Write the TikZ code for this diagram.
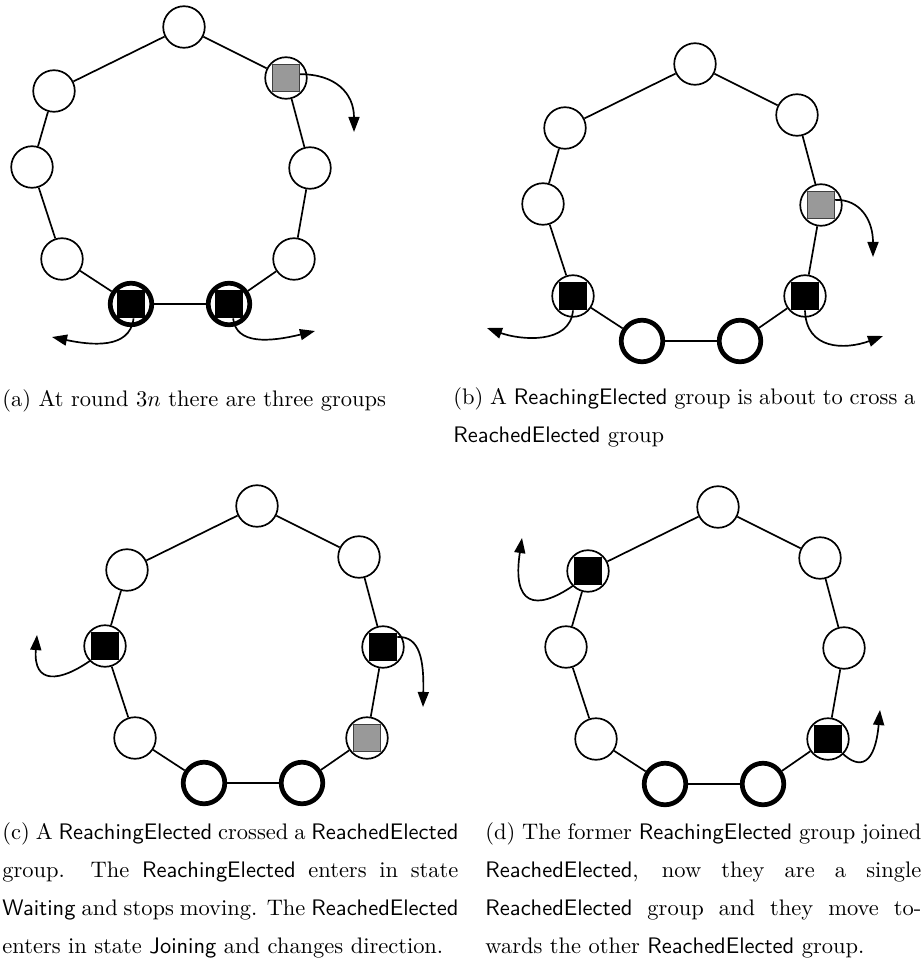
\documentclass[tikz,border=0pt]{standalone}
\usetikzlibrary{arrows.meta}
\definecolor{leadgray}{RGB}{153,153,153}

% one ring of nine sites; #1 is the name prefix, sites 5 and 6 are the base group
\newcommand{\drawring}[1]{%
  \foreach \n/\x/\y/\w in {1/184/27/0.75,2/286/78/0.75,3/310/168/0.75,4/294/259/0.75,
                           5/229/304/2.1,6/131/304/2.1,7/62/259/0.75,8/32/167/0.75,9/54/91/0.75}
    \node[ringsite,line width=\w pt] (#1\n) at (\x,\y) {};
  \foreach \n [remember=\n as \m (initially 9)] in {1,...,9}
    \draw[linkline] (#1\m) -- (#1\n);
}

\begin{document}
\begin{tikzpicture}[x=0.445pt,y=-0.445pt,
  ringsite/.style={circle,draw=black,fill=white,minimum size=18.5pt,inner sep=0pt},
  linkline/.style={line width=0.75pt},
  agentsq/.style={rectangle,minimum size=12.4pt,inner sep=0pt,fill=black,draw=black,line width=0.4pt},
  leadsq/.style={rectangle,minimum size=12pt,inner sep=0pt,fill=leadgray,draw=black!75,line width=0.5pt},
  walkarrow/.style={line width=0.75pt,-{Triangle[length=6.7pt,width=4.9pt]}},
  capnode/.style={anchor=base west,inner sep=0pt}]

\useasboundingbox (0,0) rectangle (923,966);

% ---------------- (a)
\begin{scope}
  \drawring{a}
\end{scope}
\node[leadsq]  (qa2) at (a2) {};
\node[agentsq] (qa5) at (a5) {};
\node[agentsq] (qa6) at (a6) {};
\coordinate (ea2) at (354,132);
\coordinate (ea6) at (52,337);
\coordinate (ea5) at (315,331);
\draw[walkarrow] (qa2.15) .. controls (335,74) and (354,93) .. (ea2);
\draw[walkarrow] (qa6.-80) .. controls (130,350) and (90,345) .. (ea6);
\draw[walkarrow] (qa5.-74) .. controls (236,345) and (270,342) .. (ea5);
\node[capnode] (capa) at (2,406) {(a) At round $3n$ there are three groups};

% ---------------- (b)
\begin{scope}[shift={(511,37)}]
  \drawring{b}
\end{scope}
\node[leadsq]  (qb3) at (b3) {};
\node[agentsq] (qb4) at (b4) {};
\node[agentsq] (qb7) at (b7) {};
\coordinate (eb3) at (873,257);
\coordinate (eb7) at (487,328);
\coordinate (eb4) at (883,336);
\draw[walkarrow] (qb3.20) .. controls (860,199) and (873,220) .. (eb3);
\draw[walkarrow] (qb7.south) .. controls (570,345) and (520,340) .. (eb7);
\draw[walkarrow] (qb4.south) .. controls (806,350) and (845,350) .. (eb4);
\node[capnode] (capb) at (453,404) {\parbox[t]{205.6pt}{\baselineskip=17pt\relax
  (b) A \textsf{ReachingElected} group is about to cross a\linebreak
  \textsf{ReachedElected} group}};

% ---------------- (c)
\begin{scope}[shift={(73,479)}]
  \drawring{c}
\end{scope}
\node[agentsq] (qc3) at (c3) {};
\node[leadsq]  (qc4) at (c4) {};
\node[agentsq] (qc8) at (c8) {};
\coordinate (ec8) at (37,635);
\coordinate (ec3) at (423,707);
\draw[walkarrow] (qc8.south west) .. controls (60,682) and (33,685) .. (ec8);
\draw[walkarrow] (qc3.35) .. controls (420,636) and (424,660) .. (ec3);
\node[capnode] (capc) at (2,839) {\parbox[t]{202.9pt}{\baselineskip=17pt\relax
  (c) A \textsf{ReachingElected} crossed a \textsf{ReachedElected}\linebreak
  group. The \textsf{ReachingElected} enters in state\linebreak
  \textsf{Waiting} and stops moving. The \textsf{ReachedElected}\linebreak
  enters in state \textsf{Joining} and changes direction.}};

% ---------------- (d)
\begin{scope}[shift={(534,480)}]
  \drawring{d}
\end{scope}
\node[agentsq] (qd4) at (d4) {};
\node[agentsq] (qd9) at (d9) {};
\coordinate (ed9) at (522,538);
\coordinate (ed4) at (880,710);
\draw[walkarrow] (qd9.south west) .. controls (535,612) and (512,605) .. (ed9);
\draw[walkarrow] (qd4.south east) .. controls (860,770) and (875,765) .. (ed4);
\node[capnode] (capd) at (485,839) {\parbox[t]{194pt}{\baselineskip=17pt\relax
  (d) The former \textsf{ReachingElected} group joined\linebreak
  \textsf{ReachedElected}, now they are a single\linebreak
  \textsf{ReachedElected} group and they move to-\linebreak
  wards the other \textsf{ReachedElected} group.}};

\end{tikzpicture}
\end{document}
